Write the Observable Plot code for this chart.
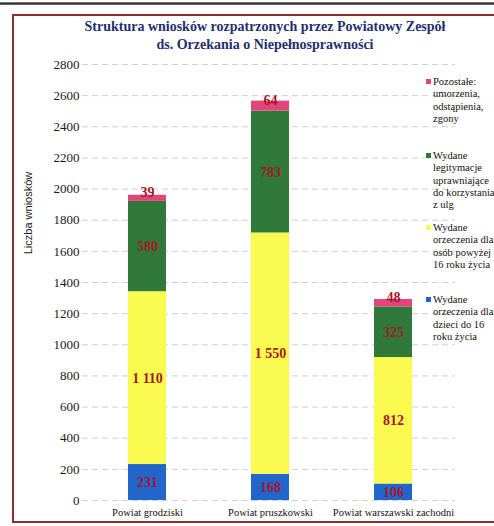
<!DOCTYPE html>
<html>
<head>
<meta charset="utf-8">
<script src="https://cdn.jsdelivr.net/npm/d3@7"></script>
<script src="https://cdn.jsdelivr.net/npm/@observablehq/plot@0.6"></script>
<style>
  html, body { margin: 0; padding: 0; background: #fff; }
  body { width: 494px; height: 526px; overflow: hidden; position: relative; }
  #scan { position: absolute; left: 0; top: 2px; width: 494px; height: 3px; background: linear-gradient(#999, #333, #777); }
  #frame { position: absolute; left: 12px; top: 14px; width: 520px; height: 505px; border: 2px solid #8e2d2d; }
  #title { position: absolute; left: 12px; top: 18px; width: 506px; text-align: center;
           font: bold 14px "Liberation Serif", "DejaVu Serif", serif; color: #1f2f6e; line-height: 18px; }
  #chart { position: absolute; left: 0; top: 56px; }
  #ylabel { position: absolute; left: 28px; top: 213px; transform: translate(-50%, -50%) rotate(-90deg);
            font: 11px "Liberation Sans", Arial, sans-serif; color: #222; white-space: nowrap; }
  .leg { position: absolute; left: 433px; font: 10.5px "Liberation Serif", serif; line-height: 12.3px; color: #111; white-space: nowrap; }
  .sw { position: absolute; left: -7px; top: 3px; width: 5px; height: 5px; }
</style>
</head>
<body>
<div id="scan"></div>
<div id="frame"></div>
<div id="title">Struktura wniosków rozpatrzonych przez Powiatowy Zespół<br>ds. Orzekania o Niepełnosprawności</div>
<div id="chart"></div>
<div id="ylabel">Liczba wniosków</div>
<div id="legend"></div>
<script>
// ---- data ----
const counties = ["Powiat grodziski", "Powiat pruszkowski", "Powiat warszawski zachodni"];
const seriesNames = [
  "Wydane orzeczenia dla dzieci do 16 roku życia",
  "Wydane orzeczenia dla osób powyżej 16 roku życia",
  "Wydane legitymacje uprawniające do korzystania z ulg",
  "Pozostałe: umorzenia, odstąpienia, zgony"
];
const childrenValues = [231, 168, 106];
const adultValues = [1110, 1550, 812];
const idCardValues = [580, 783, 325];
const otherValues = [39, 64, 48];
const yTicks = [0, 200, 400, 600, 800, 1000, 1200, 1400, 1600, 1800, 2000, 2200, 2400, 2600, 2800];
const legendLines = [
  ["Pozostałe:", "umorzenia,", "odstąpienia,", "zgony"],
  ["Wydane", "legitymacje", "uprawniające", "do korzystania", "z ulg"],
  ["Wydane", "orzeczenia dla", "osób powyżej", "16 roku życia"],
  ["Wydane", "orzeczenia dla", "dzieci do 16", "roku życia"]
];

// ---- styles ----
const colors = ["#2266cc", "#fbfa4e", "#2f7a3a", "#e2457c"];
const legendOrder = [3, 2, 1, 0];
const legendTops = [76, 150, 222, 294];
const serif = "'Liberation Serif', 'DejaVu Serif', serif";

// ---- build table ----
const seriesValues = [childrenValues, adultValues, idCardValues, otherValues];
const rows = [];
counties.forEach((c, i) => {
  let base = 0;
  seriesValues.forEach((vals, s) => {
    const v = vals[i];
    rows.push({county: c, series: seriesNames[s], value: v, y1: base, y2: base + v, mid: base + v / 2, small: s === 3});
    base += v;
  });
});

const fmtSp = v => d3.format(",d")(v).replace(/,/g, " ");

const chart = Plot.plot({
  width: 494,
  height: 470,
  marginTop: 8,
  marginBottom: 26,
  marginLeft: 82,
  marginRight: 39,
  style: {fontFamily: serif, background: "transparent", color: "#222"},
  x: {domain: counties, range: [85, 455], paddingInner: 0.69, paddingOuter: 0.345, label: null},
  y: {domain: [0, 2800], label: null},
  color: {domain: seriesNames, range: colors},
  marks: [
    Plot.gridY(yTicks, {stroke: "#bbb", strokeOpacity: 0.7, strokeDasharray: "6,4"}),
    Plot.rectY(rows, {x: "county", y1: "y1", y2: "y2", fill: "series"}),
    Plot.text(rows.filter(d => !d.small), {x: "county", y: "mid", text: d => fmtSp(d.value), fill: "#a3182a", fontSize: 14, fontWeight: "bold", fontFamily: serif}),
    Plot.text(rows.filter(d => d.small), {x: "county", y: "mid", text: d => fmtSp(d.value), fill: "#a3182a", fontSize: 14, fontWeight: "bold", fontFamily: serif, dy: -6}),
    Plot.axisY({ticks: yTicks, tickFormat: d => String(d), tickSize: 0, tickPadding: 3, fontSize: 13, fontFamily: serif, label: null, fill: "#1a1a1a"}),
    Plot.axisX({tickSize: 0, tickPadding: 8, fontSize: 10.5, fontFamily: serif, label: null, fill: "#111"})
  ]
});
document.getElementById("chart").appendChild(chart);

// ---- legend ----
const legend = document.getElementById("legend");
legendOrder.forEach((s, k) => {
  const div = document.createElement("div");
  div.className = "leg";
  div.style.top = legendTops[k] + "px";
  const sw = document.createElement("span");
  sw.className = "sw";
  sw.style.background = colors[s];
  div.appendChild(sw);
  div.innerHTML += legendLines[k].join("<br>");
  legend.appendChild(div);
});
</script>
</body>
</html>
